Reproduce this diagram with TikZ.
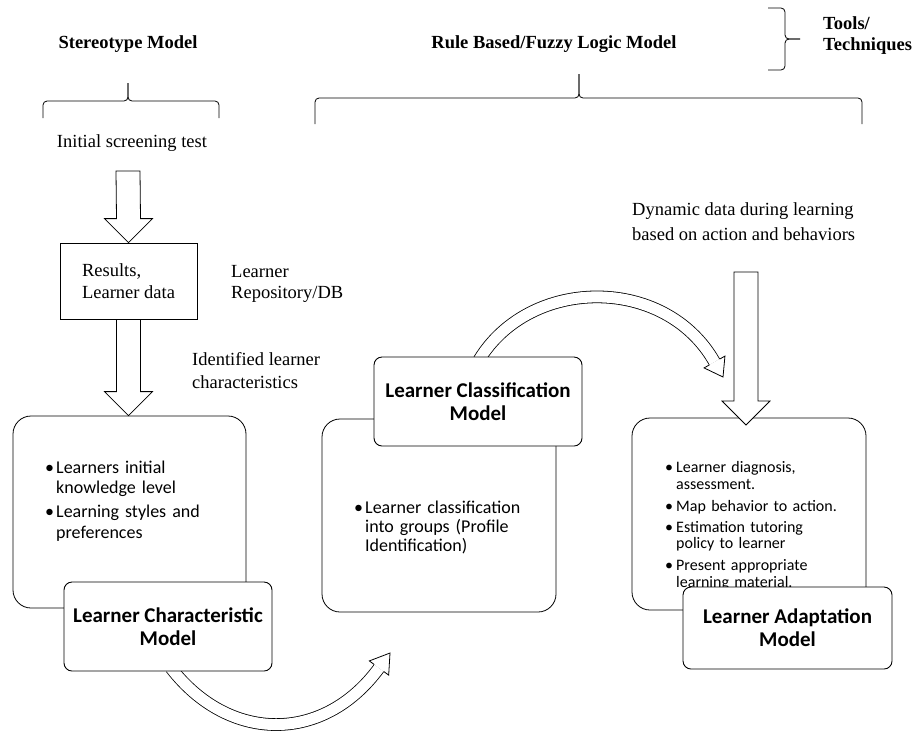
\documentclass[tikz,border=0pt]{standalone}
\usepackage{fontspec}
\setmainfont{Liberation Serif}
\newfontfamily\calfont{Carlito}
\usetikzlibrary{calc}

\tikzset{
  blockarr/.style={draw, fill=white, line width=0.8pt, line join=miter},
  bigbox/.style={draw, line width=0.8pt, rounded corners=18pt, inner sep=0pt},
  titlebox/.style={draw, fill=white, line width=0.9pt, rounded corners=8pt, align=center,
    inner sep=0pt, font=\calfont\bfseries\fontsize{21}{23}\selectfont},
  plain/.style={inner sep=0pt, align=left, font=\fontsize{18.5}{21}\selectfont},
  heading/.style={inner sep=0pt, align=left, font=\bfseries\fontsize{18.5}{21}\selectfont},
  bullets/.style={inner sep=0pt, anchor=north west, align=left},
  brc/.style={line width=0.8pt, rounded corners=4pt},
  curvy/.style={line width=0.8pt, double=white, double distance=11pt}
}

% straight block arrow going down, from #1 (top of shaft) to #2 (tip)
\newcommand{\blockdown}[2]{%
  \draw[blockarr] ($(#1)+(-12,0)$) -- ($(#2)+(-12,24)$) -- ($(#2)+(-24,24)$) -- (#2)
    -- ($(#2)+(24,24)$) -- ($(#2)+(12,24)$) -- ($(#1)+(12,0)$) -- cycle;}
% open head of a bent block arrow, base #1, tip #2
\newcommand{\openhead}[2]{%
  \fill[white] ($(#1)!12pt!90:(#2)$) -- (#2) -- ($(#1)!12pt!-90:(#2)$) -- cycle;
  \draw[line width=0.8pt, line join=miter] ($(#1)!5.9pt!90:(#2)$) -- ($(#1)!12pt!90:(#2)$)
    -- (#2) -- ($(#1)!12pt!-90:(#2)$) -- ($(#1)!5.9pt!-90:(#2)$);}
\newcommand{\bitem}[1]{\par\noindent\makebox[11pt][l]{\textbullet}%
  \begin{tabular}[t]{@{}l@{}}#1\end{tabular}\par}

\begin{document}
\begin{tikzpicture}[x=1pt, y=1pt]
\useasboundingbox (0,0) rectangle (920,-732);

% headings and braces
\node[heading, anchor=base] (stereo) at (128,-48) {Stereotype Model};
\node[heading, anchor=base] (rule) at (554,-48) {Rule Based/Fuzzy Logic Model};
\node[heading, anchor=north west] (tools) at (823,-16) {Tools/\\Techniques};
\draw[brc] (43,-118) |- (128,-101) -- (128,-83);
\draw[brc] (219,-118) |- (128,-101) -- (128,-83);
\draw[brc] (315,-124) |- (579,-98) -- (579,-74);
\draw[brc] (862,-124) |- (579,-98) -- (579,-74);
\draw[brc] (768,-8) -| (785,-39) -- (800,-39);
\draw[brc] (768,-70) -| (785,-39) -- (800,-39);

% left column
\node[plain, anchor=base] (init) at (132,-147) {Initial screening test};
\node[draw, line width=0.8pt, minimum width=137pt, minimum height=76pt, align=left,
  font=\fontsize{18.5}{22}\selectfont] (res) at (128.5,-281) {Results,\\Learner data};
\node[plain, anchor=north west] (repo) at (231,-265) {Learner\\Repository/DB};
\node[plain, anchor=north west, font=\fontsize{18.5}{23}\selectfont] (ident) at (192,-352.5)
  {Identified learner\\characteristics};

% model boxes
\node[bigbox, minimum width=233pt, minimum height=192pt] (lcm) at (129.5,-512) {};
\node[bigbox, minimum width=234pt, minimum height=193pt] (lcls) at (439,-515.5) {};
\node[bigbox, minimum width=234pt, minimum height=192pt] (lam) at (749,-514) {};

\node[bullets, text width=195pt, font=\calfont\fontsize{18}{20.5}\selectfont] (lcmtxt) at (45,-450)
  {\parskip=2.5pt\bitem{Learners initial\\knowledge level}\bitem{Learning styles and\\preferences}};
\node[bullets, text width=195pt, font=\calfont\fontsize{18}{19}\selectfont] (lclstxt) at (354,-494)
  {\bitem{Learner classification\\into groups (Profile\\Identification)}};
\node[bullets, text width=195pt, font=\calfont\fontsize{16}{16.7}\selectfont] (lamtxt) at (665,-452)
  {\parskip=4pt\bitem{Learner diagnosis,\\assessment.}\bitem{Map behavior to action.}%
   \bitem{Estimation tutoring\\policy to learner}\bitem{Present appropriate\\learning material.}};

% bent arrows between the models
\coordinate (c1s) at (171,-668);
\coordinate (c1b) at (379,-668);
\coordinate (c1t) at (390,-653);
\draw[curvy] (c1s) .. controls (229,-743) and ($(c1b)!-94pt!(c1t)$) .. (c1b);
\coordinate (c2s) at (479,-360);
\coordinate (c2b) at (714.5,-362);
\coordinate (c2t) at (723,-377);
\draw[curvy] (c2s) .. controls (530,-276) and ($(c2b)!-100pt!(c2t)$) .. (c2b);

% title boxes
\node[titlebox, minimum width=208pt, minimum height=89pt] (lcmt) at (168,-626.5)
  {Learner Characteristic\\Model};
\node[titlebox, minimum width=208pt, minimum height=89pt] (lclst) at (478,-401.5)
  {Learner Classification\\Model};
\node[titlebox, minimum width=209pt, minimum height=82pt] (lamt) at (787.5,-628)
  {Learner Adaptation\\Model};

\openhead{c1b}{c1t}
\openhead{c2b}{c2t}

% right column
\node[plain, anchor=north west, font=\fontsize{18.5}{25}\selectfont] (dyn) at (632,-202)
  {Dynamic data during learning\\based on action and behaviors};

% straight block arrows
\coordinate (a1top) at (128,-171);
\coordinate (a2tip) at (res.south |- lcm.north);
\coordinate (a3top) at (746,-272);
\coordinate (a3tip) at (746,-425);
\blockdown{a1top}{res.north}
\blockdown{res.south}{a2tip}
\blockdown{a3top}{a3tip}
\end{tikzpicture}
\end{document}
